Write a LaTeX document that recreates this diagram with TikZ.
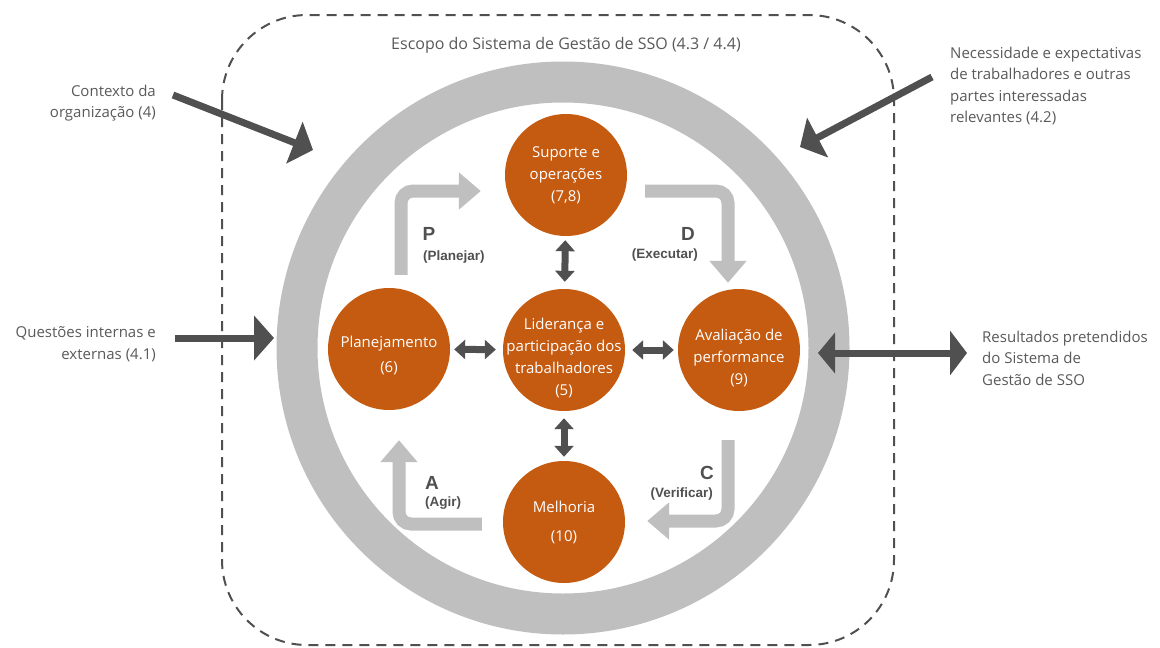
\documentclass[tikz,border=0pt]{standalone}
\usepackage{fontspec}
\setmainfont{Open Sans}
\newfontfamily\pdcafont{Liberation Sans}
\usetikzlibrary{arrows.meta}
\definecolor{laranja}{RGB}{197,90,17}
\definecolor{cinzaanel}{RGB}{191,191,191}
\definecolor{cinzaseta}{RGB}{80,80,80}
\definecolor{cinzatexto}{RGB}{89,89,89}

\begin{document}
\begin{tikzpicture}[
        x=1pt, y=-1pt,
        etapa/.style={circle, fill=laranja, minimum size=122pt, inner sep=0pt},
        etapatxt/.style={align=center, text=white, inner sep=0pt, font=\fontsize{15}{22}\selectfont},
        ligacao/.style={draw=cinzaseta, line width=7pt, shorten <=7pt, shorten >=4pt,
          {Triangle[width=19pt,length=11pt]}-{Triangle[width=19pt,length=11pt]}},
        ciclo/.style={draw=cinzaanel, line width=13pt, rounded corners=12pt, -{Triangle[width=36pt,length=22pt]}},
        entrada/.style={draw=cinzaseta, line width=7pt, -{Triangle[width=44pt,length=20pt]}},
        rotulo/.style={text=cinzatexto, inner sep=0pt, font=\fontsize{15}{21.5}\selectfont},
        letra/.style={text=cinzaseta, inner sep=0pt, font=\pdcafont\bfseries\fontsize{19}{19}\selectfont},
        fase/.style={text=cinzaseta, inner sep=0pt, font=\pdcafont\bfseries\fontsize{13.5}{14}\selectfont}
      ]
        \useasboundingbox (0,0) rectangle (1160,648);
        \draw[cinzaseta, line width=2pt, dash pattern=on 10pt off 7pt, rounded corners=85pt] (222,15) rectangle (894,645);
        \draw[cinzaanel, line width=41pt] (563,348) circle[radius=266pt];
        \node[rotulo, font=\fontsize{16}{20}\selectfont] (escopo) at (566,45) {Escopo do Sistema de Gestão de SSO (4.3 / 4.4)};

        \node[etapa] (lid) at (564,350) {};
        \node[etapa] (sup) at (566,175) {};
        \node[etapa] (plan) at (389,349) {};
        \node[etapa] (aval) at (739,350) {};
        \node[etapa] (melh) at (564,522) {};
        \node[etapatxt] (lidtxt) at ([shift={(0,8)}]lid) {Liderança e\\participação dos\\trabalhadores\\(5)};
        \node[etapatxt] (suptxt) at (sup) {Suporte e\\operações\\(7,8)};
        \node[etapatxt, font=\fontsize{15}{25}\selectfont] (plantxt) at ([shift={(0,6)}]plan) {Planejamento\\(6)};
        \node[etapatxt] (avaltxt) at ([shift={(0,8)}]aval) {Avaliação de\\performance\\(9)};
        \node[etapatxt, font=\fontsize{15}{29}\selectfont] (melhtxt) at (melh) {Melhoria\\(10)};

        \draw[ligacao] (lid) -- (sup);
        \draw[ligacao] (lid) -- (plan);
        \draw[ligacao] (lid) -- (aval);
        \draw[ligacao] (lid) -- (melh);

        \draw[ciclo] ([shift={(12,-13)}]plan.north) |- ([shift={(-24,16)}]sup.west);
        \draw[ciclo] ([shift={(18,16)}]sup.east) -| ([shift={(-11,-6)}]aval.north);
        \draw[ciclo] ([shift={(-11,29)}]aval.south) |- ([shift={(22,-1)}]melh.east);
        \draw[ciclo] ([shift={(-21,2)}]melh.west) -| ([shift={(10,30)}]plan.south);

        \node[letra] (pletra) at (429,234) {P};
        \node[fase, anchor=west] (pfase) at (423,257) {(Planejar)};
        \node[letra] (dletra) at (688,234) {D};
        \node[fase, anchor=east] (dfase) at (698,255) {(Executar)};
        \node[letra] (cletra) at (707,473) {C};
        \node[fase, anchor=east] (cfase) at (713,494) {(Verificar)};
        \node[letra] (aletra) at (432,483) {A};
        \node[fase, anchor=west] (afase) at (425,503) {(Agir)};

        \node[rotulo, anchor=east, align=right] (contexto) at (156,103) {Contexto da\\organização (4)};
        \node[rotulo, anchor=east, align=right] (questoes) at (156,344) {Questões internas e\\externas (4.1)};
        \node[rotulo, anchor=west, align=left] (partes) at (950,86) {Necessidade e expectativas\\de trabalhadores e outras\\partes interessadas\\relevantes (4.2)};
        \node[rotulo, anchor=west, align=left] (resultados) at (982,358) {Resultados pretendidos\\do Sistema de\\Gestão de SSO};

        \coordinate (contextoalvo) at (313,150);
        \coordinate (questoesalvo) at (274,338);
        \coordinate (partesalvo) at (800,147);
        \coordinate (resultadosalvo) at (818,353);
        \draw[entrada] ([shift={(17,-8)}]contexto.east) -- (contextoalvo);
        \draw[entrada] ([shift={(19,-6)}]questoes.east) -- (questoesalvo);
        \draw[entrada] ([shift={(-18,-9)}]partes.west) -- (partesalvo);
        \draw[entrada, {Triangle[width=40pt,length=17pt]}-{Triangle[width=44pt,length=17pt]}] (resultadosalvo) -- ([shift={(-15,-5)}]resultados.west);
      \end{tikzpicture}
\end{document}
